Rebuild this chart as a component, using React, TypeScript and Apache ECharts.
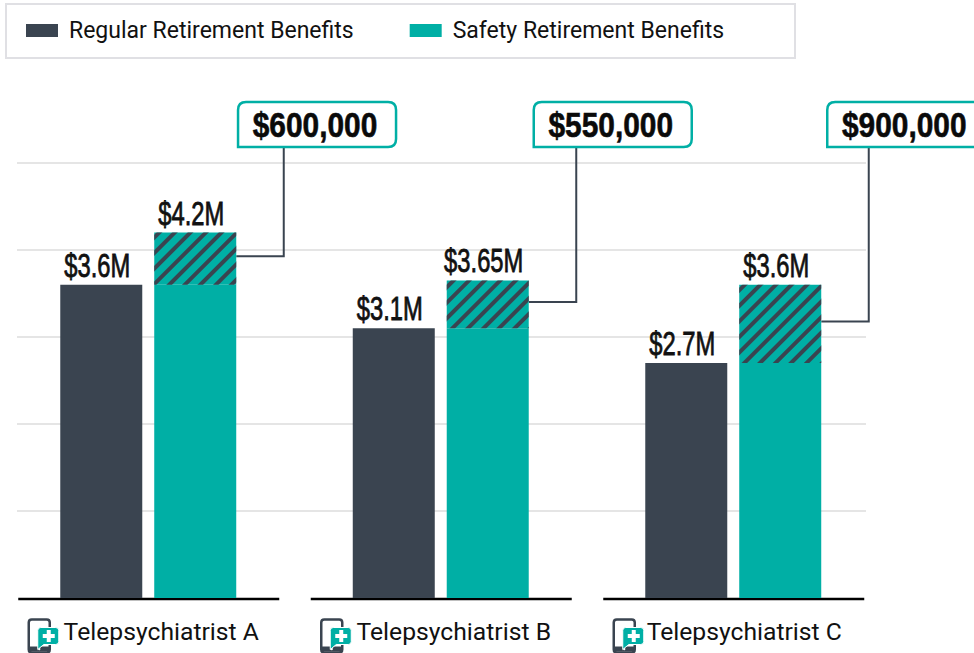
import React, { useEffect, useRef } from "react";
import * as echarts from "echarts";

const categories = ["Telepsychiatrist A", "Telepsychiatrist B", "Telepsychiatrist C"];
const regularValues = [3.6, 3.1, 2.7];
const safetyBaseValues = [3.6, 3.1, 2.7];
const safetyExtraValues = [0.6, 0.55, 0.9];
const regularLabels = ["$3.6M", "$3.1M", "$2.7M"];
const safetyLabels = ["$4.2M", "$3.65M", "$3.6M"];
const calloutLabels = ["$600,000", "$550,000", "$900,000"];
const calloutOffsets = [45.7, 42.5, 41.5];

const DARK = "#3a4450";
const TEAL = "#00afa5";
const GRID = "#dcdcdc";
const BAR_W = 82;
const BAR_OFFSET = 47;
const PHONE = "M3 0H18Q21 0 21 3V30Q21 33 18 33H3Q0 33 0 30V3Q0 0 3 0Z";
const BUBBLE = "M12 8H27Q30 8 30 11V22Q30 25 27 25H15L9 30V11Q9 8 12 8Z";
const BOX = "M8 0H150Q158 0 158 8V37Q158 45 150 45H0V8Q0 0 8 0Z";
const LABEL_FONT = '400 33px "Liberation Sans"';
const LABEL_SCALE = 0.72;

export default function App() {
  const ref = useRef<HTMLDivElement>(null);
  useEffect(() => {
    document.body.style.margin = "0";
    const chart = echarts.init(ref.current!, null, { renderer: "svg" });
    const valueText = (x: number, y: number, text: string) => ({
      type: "text",
      x,
      y,
      scaleX: LABEL_SCALE,
      style: {
        text,
        font: LABEL_FONT,
        fill: "#111",
        stroke: "#111",
        lineWidth: 0.8,
        textAlign: "center",
        textVerticalAlign: "bottom",
      },
    });
    chart.setOption({
      animation: false,
      backgroundColor: "#fff",
      legend: {
        left: 6,
        top: 4,
        padding: [15, 71, 16, 20],
        borderColor: "#e0e0e4",
        borderWidth: 2,
        itemWidth: 32,
        itemHeight: 13,
        itemGap: 56,
        icon: "rect",
        data: ["Regular Retirement Benefits", "Safety Retirement Benefits"],
        textStyle: { fontFamily: "Roboto", fontSize: 23, color: "#111", padding: [0, 0, 0, 6] },
      },
      grid: [
        { left: 2, right: 94.5, top: 163, bottom: 55 },
        { left: 17, right: 108, top: 163, bottom: 55 },
      ],
      xAxis: [
        {
          type: "category",
          gridIndex: 0,
          data: categories,
          axisLine: { show: false },
          axisTick: { show: false },
          axisLabel: {
            margin: 21,
            formatter: (v: string, i: number) => `{${i === 2 ? "c" : "a"}|${v}}`,
            rich: {
              a: { fontFamily: "Roboto", fontSize: 24.7, color: "#111", padding: [0, 0, 0, 26] },
              c: { fontFamily: "Roboto", fontSize: 24.7, color: "#111", padding: [0, 0, 0, 22] },
            },
          },
        },
        { type: "value", gridIndex: 1, min: 0, max: 1, show: false },
      ],
      yAxis: [
        { type: "value", gridIndex: 0, min: 0, max: 5, interval: 1, show: false },
        {
          type: "value",
          gridIndex: 1,
          min: 0,
          max: 5,
          interval: 1,
          axisLine: { show: false },
          axisTick: { show: false },
          axisLabel: { show: false },
          splitLine: { show: true, showMinLine: false, lineStyle: { color: GRID, width: 1.5 } },
        },
      ],
      series: [
        {
          name: "Regular Retirement Benefits",
          type: "bar",
          barWidth: BAR_W,
          barGap: "14.6%",
          data: regularValues,
          itemStyle: { color: DARK },
        },
        {
          name: "Safety Retirement Benefits",
          type: "bar",
          stack: "safety",
          barWidth: BAR_W,
          data: safetyBaseValues,
          itemStyle: { color: TEAL },
        },
        {
          name: "Safety extra",
          type: "bar",
          stack: "safety",
          barWidth: BAR_W,
          data: safetyExtraValues,
          itemStyle: {
            color: TEAL,
            decal: {
              symbol: "rect",
              color: DARK,
              dashArrayX: [1, 0],
              dashArrayY: [3.5, 6.5],
              rotation: -Math.PI / 4,
              symbolSize: 1,
            },
          },
        },
        {
          name: "Axis segments",
          type: "custom",
          clip: false,
          silent: true,
          data: categories.map((_, i) => [i, 0]),
          renderItem: (_: any, api: any) => {
            const p = api.coord([api.value(0), 0]);
            return {
              type: "line",
              shape: { x1: p[0] - 130, y1: p[1] + 1, x2: p[0] + 131, y2: p[1] + 1 },
              style: { stroke: "#000", lineWidth: 2.5 },
            };
          },
        },
        {
          name: "Regular labels",
          type: "custom",
          clip: false,
          silent: true,
          data: regularValues.map((v, i) => [i, v]),
          renderItem: (p: any, api: any) => {
            const c = api.coord([api.value(0), api.value(1)]);
            return valueText(c[0] - BAR_OFFSET - 4, c[1] - 3, regularLabels[p.dataIndex]);
          },
        },
        {
          name: "Safety labels",
          type: "custom",
          clip: false,
          silent: true,
          data: safetyBaseValues.map((v, i) => [i, v + safetyExtraValues[i]]),
          renderItem: (p: any, api: any) => {
            const c = api.coord([api.value(0), api.value(1)]);
            return valueText(c[0] + BAR_OFFSET - 4, c[1] - 3, safetyLabels[p.dataIndex]);
          },
        },
        {
          name: "Callouts",
          type: "custom",
          clip: false,
          silent: true,
          data: safetyBaseValues.map((v, i) => [i, v + safetyExtraValues[i] / 2]),
          renderItem: (p: any, api: any) => {
            const c = api.coord([api.value(0), api.value(1)]);
            const left = c[0] + BAR_OFFSET + BAR_W / 2;
            const vx = left + 47.5;
            const y = c[1] - 2.5;
            const boxX = vx - calloutOffsets[p.dataIndex];
            return {
              type: "group",
              children: [
                {
                  type: "polyline",
                  shape: { points: [[left, y], [vx, y], [vx, 147]] },
                  style: { stroke: DARK, lineWidth: 2, fill: "none" },
                },
                {
                  type: "path",
                  x: boxX,
                  y: 102,
                  shape: { pathData: BOX, x: 0, y: 0, width: 158, height: 45 },
                  style: { fill: "#fff", stroke: TEAL, lineWidth: 2.5 },
                },
                {
                  type: "text",
                  x: boxX + 77,
                  y: 124.5,
                  scaleX: 0.83,
                  style: {
                    text: calloutLabels[p.dataIndex],
                    font: '700 36px "Liberation Sans"',
                    fill: "#0a0a0a",
                    stroke: "#0a0a0a",
                    lineWidth: 0.6,
                    textAlign: "center",
                    textVerticalAlign: "middle",
                  },
                },
              ],
            };
          },
        },
        {
          name: "Icons",
          type: "custom",
          clip: false,
          silent: true,
          data: categories.map((_, i) => [i, 0]),
          renderItem: (_: any, api: any) => {
            const c = api.coord([api.value(0), 0]);
            const x = c[0] - 119.5;
            const y = 619.5;
            return {
              type: "group",
              x,
              y,
              children: [
                {
                  type: "path",
                  shape: { pathData: PHONE, x: 0, y: 0, width: 21, height: 33 },
                  style: { fill: "#fff", stroke: DARK, lineWidth: 2.5 },
                },
                { type: "rect", shape: { x: 0, y: 27, width: 21, height: 5 }, style: { fill: DARK } },
                { type: "circle", shape: { cx: 10.5, cy: 29.5, r: 1.2 }, style: { fill: "#fff" } },
                {
                  type: "path",
                  shape: { pathData: BUBBLE, x: 9, y: 8, width: 21, height: 22 },
                  style: { fill: TEAL, stroke: "#fff", lineWidth: 1 },
                },
                { type: "rect", shape: { x: 14, y: 14.5, width: 12, height: 4 }, style: { fill: "#fff" } },
                { type: "rect", shape: { x: 18, y: 10.5, width: 4, height: 12 }, style: { fill: "#fff" } },
              ],
            };
          },
        },
      ],
    });
    return () => chart.dispose();
  }, []);
  return <div ref={ref} style={{ width: 974, height: 653 }} />;
}
